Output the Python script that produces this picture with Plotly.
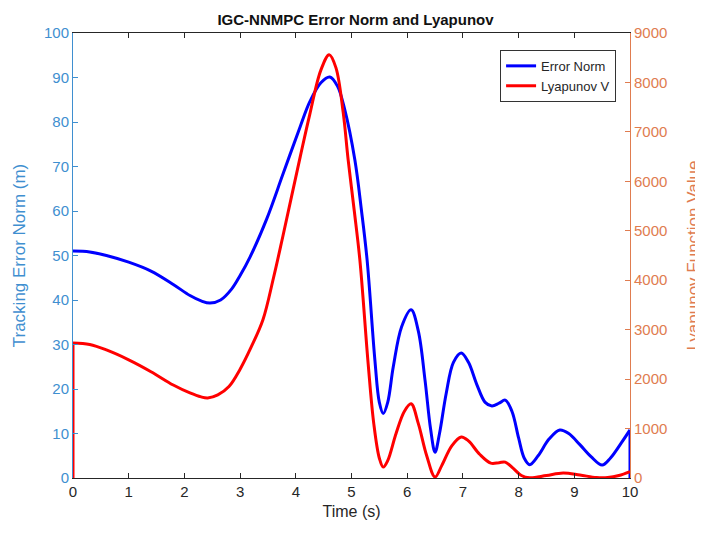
import plotly.graph_objects as go

# ---- data ----
t_err = [0, 0.3, 0.6, 1.0, 1.4, 1.8, 2.1, 2.3, 2.46, 2.65, 2.85, 3.0, 3.18, 3.48, 3.77,
         4.08, 4.25, 4.45, 4.61, 4.75, 4.88, 5.06, 5.18, 5.28, 5.42, 5.5, 5.57, 5.65,
         5.75, 5.9, 6.07, 6.2, 6.32, 6.42, 6.5, 6.58, 6.7, 6.83, 6.97, 7.1, 7.25, 7.4,
         7.52, 7.65, 7.76, 7.88, 8.0, 8.1, 8.2, 8.35, 8.55, 8.74, 8.9, 9.1, 9.3, 9.5,
         9.65, 9.85, 10]
err_norm = [51, 50.8, 50, 48.5, 46.5, 43.5, 41, 39.8, 39.3, 40, 42.5, 45.5, 49.7, 58.3, 68.3,
            79, 84.5, 88.8, 90.1, 88, 82.7, 71.5, 60, 49, 26.5, 17, 14.5, 17,
            25, 34, 37.8, 33, 22, 11, 5.8, 10, 19, 26, 28.1, 26, 21, 17,
            16.2, 16.8, 17.5, 15, 9, 4.5, 3, 5, 8.8, 10.8, 10, 7.5, 4.8, 2.9,
            4.5, 8, 10.8]
err_end_t = [10, 10]
err_end_v = [10.8, 0]

t_lyap = [0, 0.3, 0.6, 1.0, 1.4, 1.8, 2.1, 2.3, 2.42, 2.6, 2.8, 3.0, 3.2, 3.41, 3.6, 3.77,
          4.08, 4.25, 4.45, 4.6, 4.72, 4.85, 4.94, 5.05, 5.15, 5.3, 5.4, 5.5, 5.57, 5.65,
          5.8, 5.95, 6.07, 6.2, 6.35, 6.5, 6.62, 6.8, 6.97, 7.1, 7.3, 7.5, 7.65, 7.76,
          7.9, 8.05, 8.2, 8.5, 8.8, 9.1, 9.4, 9.6, 9.8, 10]
lyap_v = [2730, 2700, 2590, 2390, 2150, 1880, 1720, 1640, 1620, 1680, 1850, 2200, 2650, 3200, 4050, 4900,
          6500, 7350, 8250, 8560, 8300, 7400, 6435, 5400, 4410, 2300, 1100, 400, 220, 350,
          900, 1350, 1500, 1100, 450, 20, 250, 650, 830, 750, 480, 300, 310, 320,
          200, 50, 5, 50, 100, 60, 10, 10, 50, 130]
lyap_start_t = [0, 0]
lyap_start_v = [0, 2730]

x_ticks = list(range(0, 11))
y1_ticks = list(range(0, 101, 10))
y2_ticks = list(range(0, 9001, 1000))

BLUE_AX = "#3f8fd0"
ORANGE_AX = "#e07c4f"
DARK = "#262626"
FONT = "Liberation Sans, Arial, sans-serif"

fig = go.Figure()
fig.add_trace(go.Scatter(x=t_err, y=err_norm, mode="lines", name="Error Norm",
                         line=dict(color="#0000ff", width=3, shape="spline", smoothing=1.0),
                         yaxis="y"))
fig.add_trace(go.Scatter(x=err_end_t, y=err_end_v, mode="lines", showlegend=False,
                         line=dict(color="#0000ff", width=3), yaxis="y"))
fig.add_trace(go.Scatter(x=t_lyap, y=lyap_v, mode="lines", name="Lyapunov V",
                         line=dict(color="#ff0000", width=3, shape="spline", smoothing=1.0),
                         yaxis="y2"))
fig.add_trace(go.Scatter(x=lyap_start_t, y=lyap_start_v, mode="lines", showlegend=False,
                         line=dict(color="#ff0000", width=3), yaxis="y2"))

fig.update_layout(
    width=695, height=528,
    margin=dict(l=65, r=73, t=25, b=58),
    paper_bgcolor="white", plot_bgcolor="white",
    font=dict(family=FONT, size=15, color=DARK),
    title=dict(text="<b>IGC-NNMPC Error Norm and Lyapunov</b>", x=0.5, xanchor="center",
               y=0.978, yanchor="middle", font=dict(size=15, color="#111111")),
    showlegend=True,
    legend=dict(x=0.975, y=0.962, xanchor="right", yanchor="top",
                bordercolor="#333333", borderwidth=1, bgcolor="white",
                font=dict(size=13, color=DARK), tracegroupgap=0),
    xaxis=dict(range=[0, 10], tickvals=x_ticks, ticks="inside", ticklen=5,
               showline=True, linecolor=DARK, linewidth=1, mirror="ticks",
               tickcolor=DARK, showgrid=False, zeroline=False, automargin=False,
               tickfont=dict(size=15, color=DARK),
               title=dict(text="Time (s)", font=dict(size=16, color=DARK), standoff=6)),
    yaxis=dict(range=[0, 100], tickvals=y1_ticks, ticks="inside", ticklen=5,
               showline=True, linecolor=BLUE_AX, linewidth=1, tickcolor=BLUE_AX,
               showgrid=False, zeroline=False, automargin=False,
               tickfont=dict(size=15, color=BLUE_AX),
               title=dict(text="Tracking Error Norm (m)", font=dict(size=17, color=BLUE_AX),
                          standoff=14)),
    yaxis2=dict(range=[0, 9000], tickvals=y2_ticks, ticks="inside", ticklen=5,
                overlaying="y", side="right", anchor="x",
                showline=True, linecolor=ORANGE_AX, linewidth=1, tickcolor=ORANGE_AX,
                showgrid=False, zeroline=False, automargin=False,
                tickfont=dict(size=15, color=ORANGE_AX),
                title=dict(text="Lyapunov Function Value", font=dict(size=17, color=ORANGE_AX),
                           standoff=20)),
)

fig.write_html("out.html")
